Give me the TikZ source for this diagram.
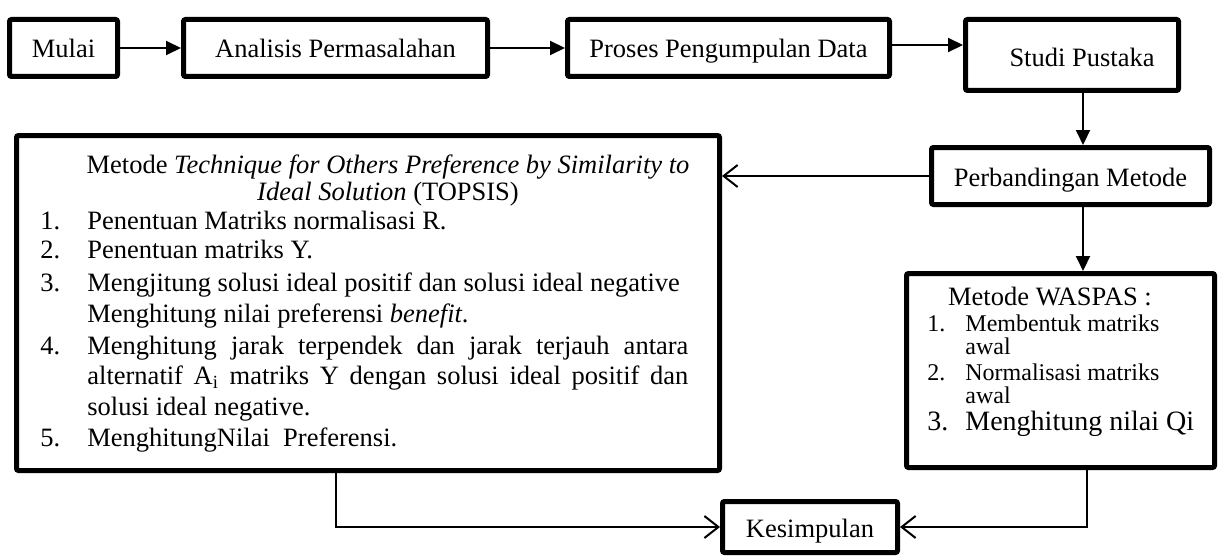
\documentclass[tikz,border=0pt]{standalone}
\usepackage{fontspec}
\setmainfont{Liberation Serif}
\usetikzlibrary{arrows.meta}
\tikzset{
  box/.style={draw, line width=2.5pt, rounded corners=1pt, inner sep=0pt, text height=10pt, text depth=0pt, font=\fontsize{13.25}{14.5}\selectfont},
  txt/.style={inner sep=0pt, font=\fontsize{13.25}{14.5}\selectfont},
  smalltxt/.style={inner sep=0pt, font=\fontsize{12}{13}\selectfont},
  bigtxt/.style={inner sep=0pt, font=\fontsize{14}{15}\selectfont},
  arr/.style={line width=1pt, -{Triangle[length=7.5pt,width=7pt]}},
  oarr/.style={line width=1pt, -{Straight Barb[length=7pt,width=11pt,line width=1pt]}}
}
\begin{document}
\begin{tikzpicture}[x=0.5pt,y=-0.5pt]
\useasboundingbox (0,0) rectangle (1219,556);
% boxes
\node[box, minimum width=54pt, minimum height=28.5pt] (mulai) at (63.5,48) {Mulai};
\node[box, minimum width=152pt, minimum height=28.5pt] (anal) at (335.5,48) {Analisis Permasalahan};
\node[box, minimum width=161pt, minimum height=28.5pt] (proses) at (728.5,48) {Proses Pengumpulan Data};
\node[box, minimum width=106.5pt, minimum height=35.5pt] (studi) at (1072,55) {};
\node[txt, anchor=base] (studitxt) at (1082,67) {Studi Pustaka};
\node[box, minimum width=139pt, minimum height=28.5pt] (perb) at (1070.5,176) {Perbandingan Metode};
\node[box, minimum width=351.5pt, minimum height=167.5pt] (topsis) at (368,303) {};
\node[box, minimum width=154pt, minimum height=97pt] (waspas) at (1060.5,370.5) {};
\node[box, minimum width=87.5pt, minimum height=25.5pt] (kes) at (810,527) {Kesimpulan};
% TOPSIS text
\node[txt, anchor=base] (tt1) at (388,173) {Metode \textit{Technique for Others Preference by Similarity to}};
\node[txt, anchor=base] (tt2) at (388,200) {\textit{Ideal Solution} (TOPSIS)};
\node[txt, anchor=base west] (tn1) at (40,229) {1.};
\node[txt, anchor=base west] (ti1) at (87,229) {Penentuan Matriks normalisasi R.};
\node[txt, anchor=base west] (tn2) at (40,258) {2.};
\node[txt, anchor=base west] (ti2) at (87,258) {Penentuan matriks Y.};
\node[txt, anchor=base west] (tn3) at (40,291) {3.};
\node[txt, anchor=base west] (ti3) at (87,291) {Mengjitung solusi ideal positif dan solusi ideal negative};
\node[txt, anchor=base west] (ti3b) at (87,322) {Menghitung nilai preferensi \textit{benefit}.};
\node[txt, anchor=base west] (tn4) at (40,354) {4.};
\node[txt, anchor=base west] (ti4) at (87,354) {\makebox[300.5pt][s]{Menghitung jarak terpendek dan jarak terjauh antara}};
\node[txt, anchor=base west] (ti4b) at (87,384) {\makebox[300.5pt][s]{alternatif A\textsubscript{i} matriks Y dengan solusi ideal positif dan}};
\node[txt, anchor=base west] (ti4c) at (87,415) {solusi ideal negative.};
\node[txt, anchor=base west] (tn5) at (40,446) {5.};
\node[txt, anchor=base west] (ti5) at (87,446) {MenghitungNilai\ \ Preferensi.};
% WASPAS text
\node[txt, anchor=base] (wt) at (1050,305) {Metode WASPAS :};
\node[smalltxt, anchor=base west] (wn1) at (927,331) {1.};
\node[smalltxt, anchor=base west] (wi1) at (965,331) {Membentuk matriks};
\node[smalltxt, anchor=base west] (wi1b) at (965,354) {awal};
\node[smalltxt, anchor=base west] (wn2) at (927,380) {2.};
\node[smalltxt, anchor=base west] (wi2) at (965,380) {Normalisasi matriks};
\node[smalltxt, anchor=base west] (wi2b) at (965,403) {awal};
\node[bigtxt, anchor=base west] (wn3) at (927,430) {3.};
\node[bigtxt, anchor=base west] (wi3) at (965,430) {Menghitung nilai Qi};
% connectors
\coordinate (cx) at (1083,0);
\coordinate (lx) at (336,0);
\coordinate (rx) at (1087,0);
\coordinate (pe) at ([yshift=1.5pt]proses.east);
\draw[arr] (mulai) -- (anal);
\draw[arr] (anal) -- (proses);
\draw[arr] (pe) -- (pe -| studi.west);
\draw[arr] (studi.south -| cx) -- (perb.north -| cx);
\draw[oarr] (perb.west) -- (perb.west -| topsis.east);
\draw[arr] (perb.south -| cx) -- (waspas.north -| cx);
\draw[oarr] (topsis.south -| lx) |- (kes.west);
\draw[oarr] (waspas.south -| rx) |- (kes.east);
\end{tikzpicture}
\end{document}
